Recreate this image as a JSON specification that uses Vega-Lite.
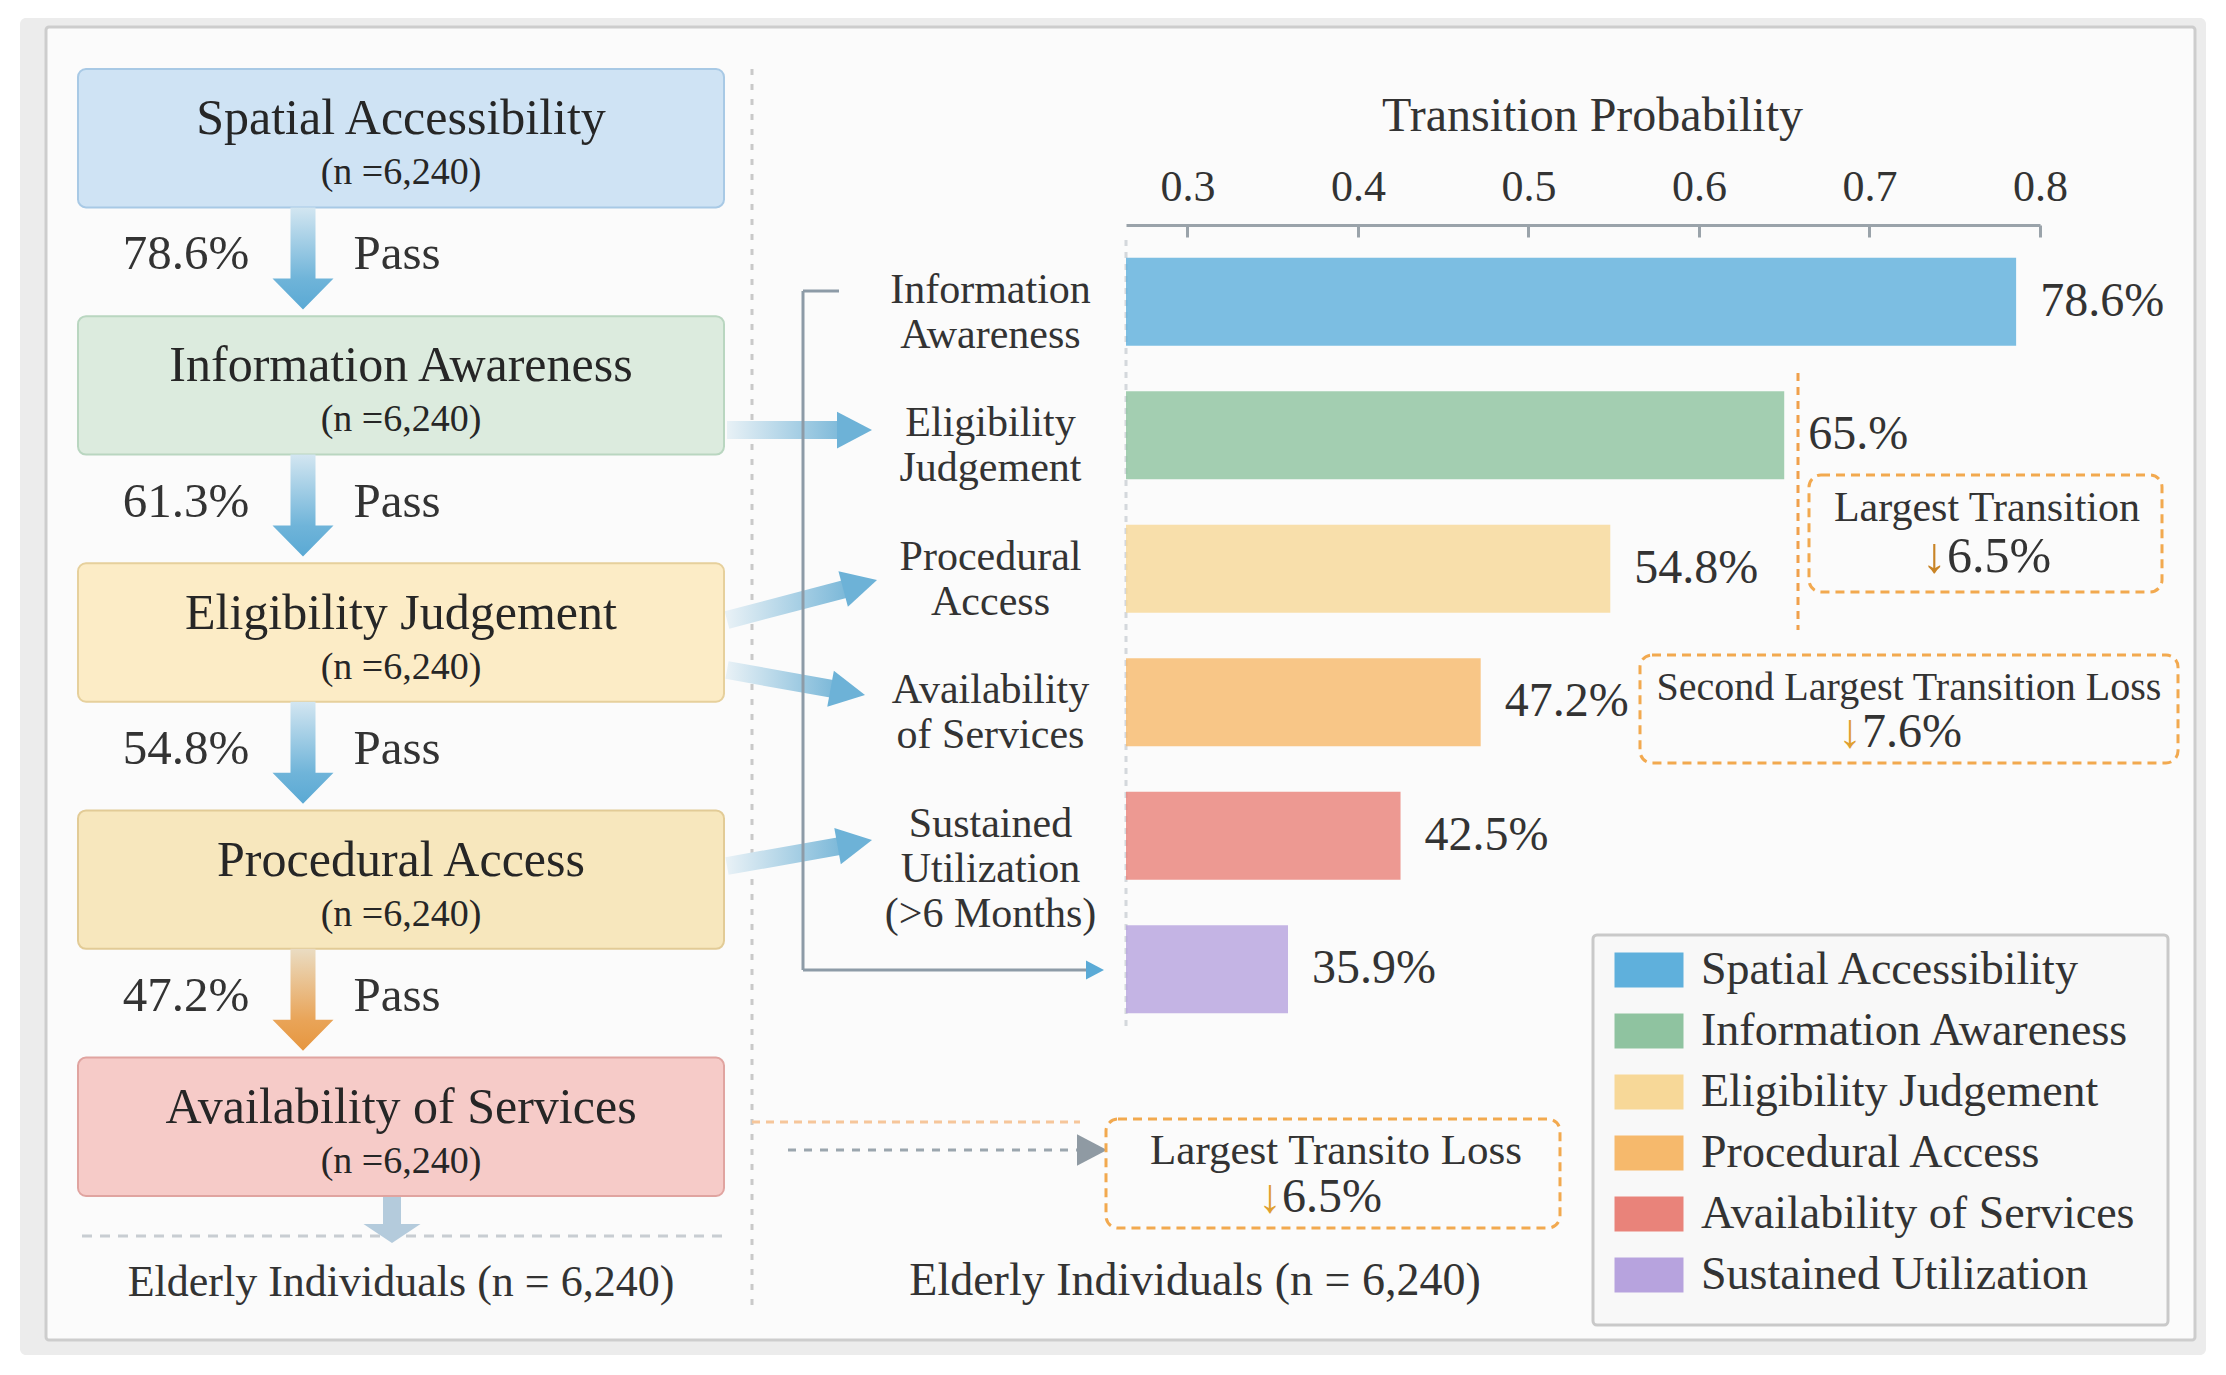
{
 "$schema": "https://vega.github.io/schema/vega-lite/v6.json",
 "width": 2226, "height": 1375, "autosize": "none", "padding": 0, "background": "#ffffff",
 "config": {"view": {"stroke": null}, "font": "Liberation Serif", "text": {"font": "Liberation Serif", "color": "#333333"}},
 "datasets": {
  "stages": [
   {"stage": "Spatial Accessibility", "ntext": "(n =6,240)"},
   {"stage": "Information Awareness", "ntext": "(n =6,240)"},
   {"stage": "Eligibility Judgement", "ntext": "(n =6,240)"},
   {"stage": "Procedural Access", "ntext": "(n =6,240)"},
   {"stage": "Availability of Services", "ntext": "(n =6,240)"}
  ],
  "flow": [
   {"from": "Spatial Accessibility", "to": "Information Awareness", "pass": 0.786},
   {"from": "Information Awareness", "to": "Eligibility Judgement", "pass": 0.613},
   {"from": "Eligibility Judgement", "to": "Procedural Access", "pass": 0.548},
   {"from": "Procedural Access", "to": "Availability of Services", "pass": 0.472}
  ],
  "bars": [
   {"stage": "Spatial Accessibility", "target": "Information\nAwareness", "p": 0.786, "label": "78.6%"},
   {"stage": "Information Awareness", "target": "Eligibility\nJudgement", "p": 0.65, "label": "65.%"},
   {"stage": "Eligibility Judgement", "target": "Procedural\nAccess", "p": 0.548, "label": "54.8%"},
   {"stage": "Procedural Access", "target": "Availability\nof Services", "p": 0.472, "label": "47.2%"},
   {"stage": "Availability of Services", "target": "Sustained\nUtilization\n(>6 Months)", "p": 0.425, "label": "42.5%"},
   {"stage": "Sustained Utilization", "target": "", "p": 0.359, "label": "35.9%"}
  ]
 },
 "layer": [
  {
   "data": {"values": [{}]},
   "layer": [
    {"mark": {"type": "rect", "fill": "#ececec", "cornerRadius": 6},
     "encoding": {"x": {"datum": 20, "type": "quantitative", "scale": {"domain": [0, 2226], "range": [0, 2226], "nice": false, "zero": false}, "axis": null}, "x2": {"datum": 2206},
                  "y": {"datum": 18, "type": "quantitative", "scale": {"domain": [0, 1375], "range": [0, 1375], "nice": false, "zero": false}, "axis": null}, "y2": {"datum": 1355}}},
    {"mark": {"type": "rect", "fill": "#fbfbfb", "stroke": "#cdcdcd", "strokeWidth": 3, "cornerRadius": 3},
     "encoding": {"x": {"datum": 46, "type": "quantitative", "axis": null}, "x2": {"datum": 2195}, "y": {"datum": 27, "type": "quantitative", "axis": null}, "y2": {"datum": 1340}}},
    {"mark": {"type": "rule", "stroke": "#c9c9c9", "strokeWidth": 3, "strokeDash": [6, 9]},
     "encoding": {"x": {"datum": 752, "type": "quantitative", "axis": null}, "y": {"datum": 69, "type": "quantitative", "axis": null}, "y2": {"datum": 1307}}},
    {"mark": {"type": "rule", "stroke": "#c8cdd2", "strokeWidth": 3, "strokeDash": [10, 8]},
     "encoding": {"x": {"datum": 82, "type": "quantitative", "axis": null}, "x2": {"datum": 724}, "y": {"datum": 1236, "type": "quantitative", "axis": null}}},
    {"mark": {"type": "point", "shape": "M-0.9,0L0.9,0L0.9,2.8L2.85,2.8L0,4.7L-2.85,2.8L-0.9,2.8Z", "size": 400, "filled": true, "fill": "#b4cbdc", "opacity": 1, "strokeWidth": 0},
     "encoding": {"x": {"datum": 392, "type": "quantitative", "axis": null}, "y": {"datum": 1196, "type": "quantitative", "axis": null}}},
    {"mark": {"type": "text", "text": "Elderly Individuals (n = 6,240)", "fontSize": 44, "align": "center", "baseline": "middle"},
     "encoding": {"x": {"datum": 401, "type": "quantitative", "axis": null}, "y": {"datum": 1283, "type": "quantitative", "axis": null}}},
    {"mark": {"type": "text", "text": "Elderly Individuals (n = 6,240)", "fontSize": 46, "align": "center", "baseline": "middle"},
     "encoding": {"x": {"datum": 1195, "type": "quantitative", "axis": null}, "y": {"datum": 1281, "type": "quantitative", "axis": null}}},
    {"mark": {"type": "rule", "stroke": "#d4d8dc", "strokeWidth": 3, "strokeDash": [6, 6]},
     "encoding": {"x": {"datum": 1126, "type": "quantitative", "axis": null}, "y": {"datum": 240, "type": "quantitative", "axis": null}, "y2": {"datum": 1030}}},
    {"mark": {"type": "rect", "fill": {"gradient": "linear", "x1": 0, "y1": 0, "x2": 1, "y2": 0, "stops": [{"offset": 0, "color": "#e8f1f6"}, {"offset": 1, "color": "#7db9d9"}]}},
     "encoding": {"x": {"datum": 727, "type": "quantitative", "axis": null}, "x2": {"datum": 842}, "y": {"datum": 421, "type": "quantitative", "axis": null}, "y2": {"datum": 439}}},
    {"mark": {"type": "point", "shape": "M0,0L-2,-1.05L-2,1.05Z", "size": 1225, "filled": true, "fill": "#6db2d7", "opacity": 1, "strokeWidth": 0, "angle": 0},
     "encoding": {"x": {"datum": 872, "type": "quantitative", "axis": null}, "y": {"datum": 430, "type": "quantitative", "axis": null}}},
    {"mark": {"type": "rule", "strokeWidth": 18, "strokeCap": "butt", "stroke": {"gradient": "linear", "x1": 0, "y1": 0, "x2": 1, "y2": 0, "stops": [{"offset": 0, "color": "#e8f1f6"}, {"offset": 1, "color": "#7db9d9"}]}},
     "encoding": {"x": {"datum": 727, "type": "quantitative", "axis": null}, "y": {"datum": 620, "type": "quantitative", "axis": null}, "x2": {"datum": 845}, "y2": {"datum": 589}}},
    {"mark": {"type": "point", "shape": "M0,0L-2,-1.05L-2,1.05Z", "size": 1225, "filled": true, "fill": "#6db2d7", "opacity": 1, "strokeWidth": 0, "angle": -14.9},
     "encoding": {"x": {"datum": 877, "type": "quantitative", "axis": null}, "y": {"datum": 580, "type": "quantitative", "axis": null}}},
    {"mark": {"type": "rule", "strokeWidth": 18, "strokeCap": "butt", "stroke": {"gradient": "linear", "x1": 0, "y1": 0, "x2": 1, "y2": 0, "stops": [{"offset": 0, "color": "#e8f1f6"}, {"offset": 1, "color": "#7db9d9"}]}},
     "encoding": {"x": {"datum": 727, "type": "quantitative", "axis": null}, "y": {"datum": 670, "type": "quantitative", "axis": null}, "x2": {"datum": 833}, "y2": {"datum": 689}}},
    {"mark": {"type": "point", "shape": "M0,0L-2,-1.05L-2,1.05Z", "size": 1225, "filled": true, "fill": "#6db2d7", "opacity": 1, "strokeWidth": 0, "angle": 10.3},
     "encoding": {"x": {"datum": 865, "type": "quantitative", "axis": null}, "y": {"datum": 695, "type": "quantitative", "axis": null}}},
    {"mark": {"type": "rule", "strokeWidth": 18, "strokeCap": "butt", "stroke": {"gradient": "linear", "x1": 0, "y1": 0, "x2": 1, "y2": 0, "stops": [{"offset": 0, "color": "#e8f1f6"}, {"offset": 1, "color": "#7db9d9"}]}},
     "encoding": {"x": {"datum": 727, "type": "quantitative", "axis": null}, "y": {"datum": 866, "type": "quantitative", "axis": null}, "x2": {"datum": 840}, "y2": {"datum": 846}}},
    {"mark": {"type": "point", "shape": "M0,0L-2,-1.05L-2,1.05Z", "size": 1225, "filled": true, "fill": "#6db2d7", "opacity": 1, "strokeWidth": 0, "angle": -10.2},
     "encoding": {"x": {"datum": 872, "type": "quantitative", "axis": null}, "y": {"datum": 840, "type": "quantitative", "axis": null}}},
    {"mark": {"type": "rule", "stroke": "#8d9ba7", "strokeWidth": 3},
     "encoding": {"x": {"datum": 803, "type": "quantitative", "axis": null}, "y": {"datum": 291, "type": "quantitative", "axis": null}, "y2": {"datum": 970}}},
    {"mark": {"type": "rule", "stroke": "#8d9ba7", "strokeWidth": 3},
     "encoding": {"x": {"datum": 803, "type": "quantitative", "axis": null}, "x2": {"datum": 839}, "y": {"datum": 291, "type": "quantitative", "axis": null}}},
    {"mark": {"type": "rule", "stroke": "#8d9ba7", "strokeWidth": 3},
     "encoding": {"x": {"datum": 803, "type": "quantitative", "axis": null}, "x2": {"datum": 1092}, "y": {"datum": 970, "type": "quantitative", "axis": null}}},
    {"mark": {"type": "point", "shape": "M0,0L-2,-1.05L-2,1.05Z", "size": 324, "filled": true, "fill": "#5aaad6", "opacity": 1, "strokeWidth": 0},
     "encoding": {"x": {"datum": 1104, "type": "quantitative", "axis": null}, "y": {"datum": 970, "type": "quantitative", "axis": null}}},
    {"mark": {"type": "rule", "stroke": "#f0a04b", "strokeWidth": 3, "strokeDash": [8, 6]},
     "encoding": {"x": {"datum": 1798, "type": "quantitative", "axis": null}, "y": {"datum": 373, "type": "quantitative", "axis": null}, "y2": {"datum": 630}}},
    {"mark": {"type": "rect", "filled": false, "stroke": "#f2a94f", "strokeWidth": 3, "strokeDash": [9, 6], "cornerRadius": 12},
     "encoding": {"x": {"datum": 1809, "type": "quantitative", "axis": null}, "x2": {"datum": 2162}, "y": {"datum": 475, "type": "quantitative", "axis": null}, "y2": {"datum": 592}}},
    {"mark": {"type": "text", "text": "Largest Transition", "fontSize": 42, "align": "center", "baseline": "middle"},
     "encoding": {"x": {"datum": 1987, "type": "quantitative", "axis": null}, "y": {"datum": 508, "type": "quantitative", "axis": null}}},
    {"mark": {"type": "text", "text": "↓", "fontSize": 50, "fontWeight": "bold", "align": "right", "baseline": "middle", "color": "#c98426"},
     "encoding": {"x": {"datum": 1947, "type": "quantitative", "axis": null}, "y": {"datum": 557, "type": "quantitative", "axis": null}}},
    {"mark": {"type": "text", "text": "6.5%", "fontSize": 50, "align": "left", "baseline": "middle"},
     "encoding": {"x": {"datum": 1947, "type": "quantitative", "axis": null}, "y": {"datum": 557, "type": "quantitative", "axis": null}}},
    {"mark": {"type": "rect", "filled": false, "stroke": "#f2a94f", "strokeWidth": 3, "strokeDash": [9, 6], "cornerRadius": 12},
     "encoding": {"x": {"datum": 1640, "type": "quantitative", "axis": null}, "x2": {"datum": 2178}, "y": {"datum": 655, "type": "quantitative", "axis": null}, "y2": {"datum": 763}}},
    {"mark": {"type": "text", "text": "Second Largest Transition Loss", "fontSize": 40, "align": "center", "baseline": "middle"},
     "encoding": {"x": {"datum": 1909, "type": "quantitative", "axis": null}, "y": {"datum": 688, "type": "quantitative", "axis": null}}},
    {"mark": {"type": "text", "text": "↓", "fontSize": 48, "fontWeight": "bold", "align": "right", "baseline": "middle", "color": "#e0a030"},
     "encoding": {"x": {"datum": 1862, "type": "quantitative", "axis": null}, "y": {"datum": 733, "type": "quantitative", "axis": null}}},
    {"mark": {"type": "text", "text": "7.6%", "fontSize": 48, "align": "left", "baseline": "middle"},
     "encoding": {"x": {"datum": 1862, "type": "quantitative", "axis": null}, "y": {"datum": 733, "type": "quantitative", "axis": null}}},
    {"mark": {"type": "rule", "stroke": "#f6c69a", "strokeWidth": 3, "strokeDash": [8, 6]},
     "encoding": {"x": {"datum": 752, "type": "quantitative", "axis": null}, "x2": {"datum": 1080}, "y": {"datum": 1122, "type": "quantitative", "axis": null}}},
    {"mark": {"type": "rule", "stroke": "#9ba6ae", "strokeWidth": 3, "strokeDash": [8, 8]},
     "encoding": {"x": {"datum": 788, "type": "quantitative", "axis": null}, "x2": {"datum": 1080}, "y": {"datum": 1150, "type": "quantitative", "axis": null}}},
    {"mark": {"type": "point", "shape": "M0,0L-2,-1.05L-2,1.05Z", "size": 900, "filled": true, "fill": "#8f9aa3", "opacity": 1, "strokeWidth": 0},
     "encoding": {"x": {"datum": 1107, "type": "quantitative", "axis": null}, "y": {"datum": 1150, "type": "quantitative", "axis": null}}},
    {"mark": {"type": "rect", "filled": false, "stroke": "#f2a94f", "strokeWidth": 3, "strokeDash": [9, 6], "cornerRadius": 12},
     "encoding": {"x": {"datum": 1106, "type": "quantitative", "axis": null}, "x2": {"datum": 1560}, "y": {"datum": 1119, "type": "quantitative", "axis": null}, "y2": {"datum": 1228}}},
    {"mark": {"type": "text", "text": "Largest Transito Loss", "fontSize": 43, "align": "center", "baseline": "middle"},
     "encoding": {"x": {"datum": 1336, "type": "quantitative", "axis": null}, "y": {"datum": 1151, "type": "quantitative", "axis": null}}},
    {"mark": {"type": "text", "text": "↓", "fontSize": 48, "fontWeight": "bold", "align": "right", "baseline": "middle", "color": "#e0a030"},
     "encoding": {"x": {"datum": 1282, "type": "quantitative", "axis": null}, "y": {"datum": 1198, "type": "quantitative", "axis": null}}},
    {"mark": {"type": "text", "text": "6.5%", "fontSize": 48, "align": "left", "baseline": "middle"},
     "encoding": {"x": {"datum": 1282, "type": "quantitative", "axis": null}, "y": {"datum": 1198, "type": "quantitative", "axis": null}}},
    {"mark": {"type": "rect", "fill": "#f8f8f8", "stroke": "#c9c9c9", "strokeWidth": 3, "cornerRadius": 4},
     "encoding": {"x": {"datum": 1593, "type": "quantitative", "axis": null}, "x2": {"datum": 2168}, "y": {"datum": 935, "type": "quantitative", "axis": null}, "y2": {"datum": 1325}}}
   ]
  },
  {
   "layer": [
    {"data": {"name": "stages"},
     "mark": {"type": "rect", "cornerRadius": 8, "strokeWidth": 2},
     "encoding": {
      "y": {"field": "stage", "type": "nominal", "scale": {"domain": ["Spatial Accessibility", "Information Awareness", "Eligibility Judgement", "Procedural Access", "Availability of Services"], "range": [69, 1196], "paddingInner": 0.44, "paddingOuter": 0}, "axis": null},
      "x": {"datum": 78, "type": "quantitative", "scale": {"domain": [0, 2226], "range": [0, 2226], "nice": false, "zero": false}, "axis": null},
      "x2": {"datum": 724},
      "fill": {"field": "stage", "type": "nominal", "scale": {"domain": ["Spatial Accessibility", "Information Awareness", "Eligibility Judgement", "Procedural Access", "Availability of Services"], "range": ["#cfe3f4", "#dcebde", "#fcecc6", "#f7e7bd", "#f6cbc8"]}, "legend": null},
      "stroke": {"field": "stage", "type": "nominal", "scale": {"domain": ["Spatial Accessibility", "Information Awareness", "Eligibility Judgement", "Procedural Access", "Availability of Services"], "range": ["#a8c9e5", "#b9d6c0", "#e6d09c", "#e2cb96", "#e0a4a0"]}, "legend": null}
     }},
    {"data": {"name": "stages"},
     "mark": {"type": "text", "fontSize": 50, "dy": -19, "align": "center", "baseline": "middle", "color": "#262626"},
     "encoding": {"y": {"field": "stage", "type": "nominal", "axis": null}, "x": {"datum": 401, "type": "quantitative", "axis": null}, "text": {"field": "stage"}}},
    {"data": {"name": "stages"},
     "mark": {"type": "text", "fontSize": 38, "dy": 35, "align": "center", "baseline": "middle", "color": "#262626"},
     "encoding": {"y": {"field": "stage", "type": "nominal", "axis": null}, "x": {"datum": 401, "type": "quantitative", "axis": null}, "text": {"field": "ntext"}}},
    {"data": {"name": "flow"},
     "transform": [{"filter": {"field": "from", "oneOf": ["Spatial Accessibility", "Information Awareness", "Eligibility Judgement"]}}],
     "mark": {"type": "point", "shape": "M-1.25,0L1.25,0L1.25,7.1L3.05,7.1L0,10.2L-3.05,7.1L-1.25,7.1Z", "size": 400, "filled": true, "opacity": 1, "strokeWidth": 0,
              "fill": {"gradient": "linear", "x1": 0, "y1": 0, "x2": 0, "y2": 1, "stops": [{"offset": 0, "color": "#d3e6f1"}, {"offset": 0.7, "color": "#6fb4d9"}, {"offset": 1, "color": "#5aa9d4"}]}},
     "encoding": {"y": {"field": "from", "type": "nominal", "bandPosition": 1, "axis": null}, "x": {"datum": 303, "type": "quantitative", "axis": null}}},
    {"data": {"name": "flow"},
     "transform": [{"filter": {"field": "from", "equal": "Procedural Access"}}],
     "mark": {"type": "point", "shape": "M-1.25,0L1.25,0L1.25,7.1L3.05,7.1L0,10.2L-3.05,7.1L-1.25,7.1Z", "size": 400, "filled": true, "opacity": 1, "strokeWidth": 0,
              "fill": {"gradient": "linear", "x1": 0, "y1": 0, "x2": 0, "y2": 1, "stops": [{"offset": 0, "color": "#eadcc2"}, {"offset": 0.7, "color": "#e9a458"}, {"offset": 1, "color": "#e6963f"}]}},
     "encoding": {"y": {"field": "from", "type": "nominal", "bandPosition": 1, "axis": null}, "x": {"datum": 303, "type": "quantitative", "axis": null}}},
    {"data": {"name": "flow"},
     "mark": {"type": "text", "fontSize": 49, "dy": 47, "align": "center", "baseline": "middle", "color": "#333333"},
     "encoding": {"y": {"field": "from", "type": "nominal", "bandPosition": 1, "axis": null}, "x": {"datum": 186, "type": "quantitative", "axis": null}, "text": {"field": "pass", "type": "quantitative", "format": ".1%"}}},
    {"data": {"name": "flow"},
     "mark": {"type": "text", "fontSize": 49, "dy": 47, "align": "center", "baseline": "middle", "color": "#333333"},
     "encoding": {"y": {"field": "from", "type": "nominal", "bandPosition": 1, "axis": null}, "x": {"datum": 397, "type": "quantitative", "axis": null}, "text": {"value": "Pass"}}}
   ]
  },
  {
   "data": {"name": "bars"},
   "layer": [
    {"mark": {"type": "bar", "opacity": 0.82},
     "encoding": {
      "x": {"field": "p", "type": "quantitative", "scale": {"domain": [0.264, 0.8], "range": [1126, 2040], "zero": false, "nice": false},
            "axis": {"orient": "top", "offset": -225, "zindex": 2, "values": [0.3, 0.4, 0.5, 0.6, 0.7, 0.8], "format": ".1f", "grid": false, "domainColor": "#9aa3aa", "domainWidth": 3, "tickColor": "#9aa3aa", "tickWidth": 3, "tickSize": -12, "labelPadding": 28, "labelFontSize": 44, "labelColor": "#333333", "labelFont": "Liberation Serif", "labelFlush": false, "labelOverlap": false,
                     "title": "Transition Probability", "titleFontSize": 48, "titleFontWeight": "normal", "titleColor": "#333333", "titleFont": "Liberation Serif", "titleX": 1592, "titleY": -109, "titleBaseline": "middle", "titleAlign": "center"}},
      "x2": {"datum": 0.264},
      "y": {"field": "target", "type": "nominal", "sort": null, "scale": {"range": [235, 1036], "paddingInner": 0.34, "paddingOuter": 0.17},
            "axis": {"orient": "left", "offset": -1126, "zindex": 2, "domain": false, "ticks": false, "grid": false, "labelPadding": 136, "labelOffset": -12, "labelAlign": "center", "labelBaseline": "middle", "labelFontSize": 42, "labelLineHeight": 45, "labelFont": "Liberation Serif", "labelColor": "#333333", "labelLimit": 500, "labelOverlap": false, "labelExpr": "split(datum.value, '\\n')", "title": null}},
      "color": {"field": "stage", "type": "nominal", "sort": null,
                "scale": {"domain": ["Spatial Accessibility", "Information Awareness", "Eligibility Judgement", "Procedural Access", "Availability of Services", "Sustained Utilization"], "range": ["#5fb0dc", "#8fc3a0", "#f7d898", "#f6b96c", "#e9837a", "#b7a3de"]},
                "legend": {"orient": "none", "legendX": 1619, "legendY": 940, "title": null, "symbolType": "M-1.15,-0.58H1.15V0.58H-1.15Z", "symbolSize": 3600, "symbolOpacity": 1, "symbolStrokeWidth": 0, "labelFontSize": 46, "labelFont": "Liberation Serif", "labelColor": "#333333", "labelOffset": 22, "rowPadding": 8, "padding": 0, "labelLimit": 600}}
     }},
    {"mark": {"type": "text", "align": "left", "baseline": "middle", "dx": 24, "fontSize": 48, "color": "#333333"},
     "encoding": {"x": {"field": "p", "type": "quantitative"}, "y": {"field": "target", "type": "nominal", "sort": null}, "text": {"field": "label"}}}
   ]
  }
 ],
 "resolve": {"scale": {"x": "independent", "y": "independent", "color": "independent", "fill": "independent", "stroke": "independent"}, "axis": {"x": "independent", "y": "independent"}}
}
